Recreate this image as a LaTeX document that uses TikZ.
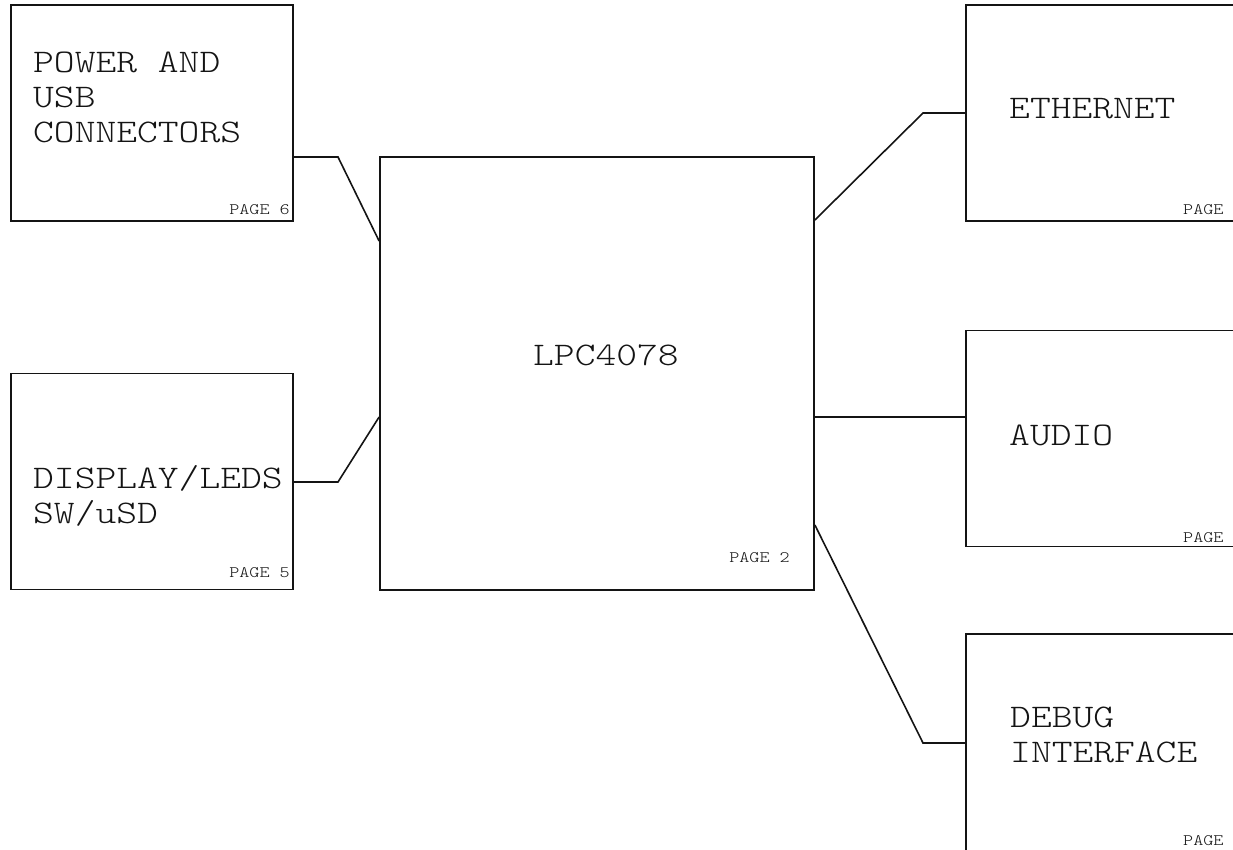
\documentclass[tikz,border=0pt]{standalone}
\usepackage{fontspec}
\setmainfont{Liberation Mono}
\newfontfamily\courfont[FakeStretch=1.2]{Latin Modern Mono Light}
\usetikzlibrary{positioning,calc}
\definecolor{ink}{RGB}{20,20,20}

\begin{document}
\begin{tikzpicture}[x=1pt,y=-1pt,
  every node/.style={inner sep=0pt, text=ink},
  blk/.style={draw=ink, line width=1.8pt, minimum width=282pt, minimum height=216pt},
  lbl/.style={anchor=base west, align=left, font=\courfont\fontsize{33}{35}\selectfont},
  pg/.style={font=\courfont\fontsize{16}{16}\selectfont},
  wire/.style={draw=ink, line width=1.6pt}]
\clip (0,0) rectangle (1233,850);
\node[blk] (pwr) at (152,113) {};
\node[blk] (dsp) at (152,481.5) {};
\node[blk, minimum width=434pt, minimum height=433pt] (mcu) at (597,373.5) {};
\node[blk] (eth) at (1107,113) {};
\node[blk] (aud) at (1107,438.5) {};
\node[blk, minimum height=222pt] (dbg) at (1107,745) {};
% multi-line labels sit on their last line
\node[lbl] (pwrtxt) at (33,143) {POWER AND\\USB\\CONNECTORS};
\node[lbl] (dsptxt) at (33,523) {DISPLAY/LEDS\\SW/uSD};
\node[lbl] (mcutxt) at (533,365) {LPC4078};
\node[lbl] (ethtxt) at (1009,119) {ETHERNET};
\node[lbl] (audtxt) at (1009,445) {AUDIO};
\node[lbl] (dbgtxt) at (1010,762) {DEBUG\\INTERFACE};
\node[pg, anchor=base east] (pwrpg) at (290,215) {PAGE 6};
\node[pg, anchor=base east] (dsppg) at (290,577) {PAGE 5};
\node[pg, anchor=base east] (mcupg) at (790,562) {PAGE 2};
\node[pg, anchor=base west] (ethpg) at (1183,215) {PAGE};
\node[pg, anchor=base west] (audpg) at (1183,542) {PAGE};
\node[pg, anchor=base west] (dbgpg) at (1183,845) {PAGE};
\coordinate (k1) at (338,157);
\coordinate (k2) at (338,482);
\coordinate (k3) at (923,113);
\coordinate (k4) at (923,743);
\draw[wire] (pwr.east |- k1) -- (k1) -- (mcu.west |- 0,241);
\draw[wire] (dsp.east |- k2) -- (k2) -- (mcu.west |- 0,417);
\draw[wire] (mcu.east |- 0,220) -- (k3) -- (eth.west |- k3);
\draw[wire] (mcu.east |- 0,417) -- (aud.west |- 0,417);
\draw[wire] (mcu.east |- 0,525) -- (k4) -- (dbg.west |- k4);
\end{tikzpicture}
\end{document}
